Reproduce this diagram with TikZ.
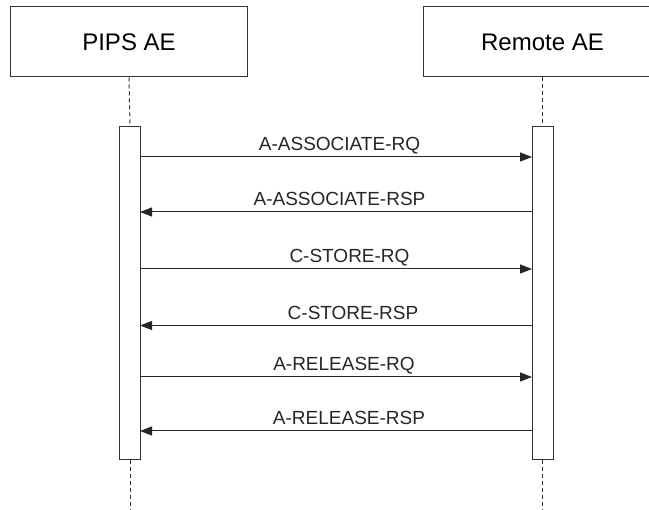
\documentclass[tikz,border=0pt]{standalone}
\usepackage{fontspec}
\setmainfont{Liberation Sans}
\usepackage{tikz}
\usetikzlibrary{arrows.meta}

\tikzset{
  actor/.style={draw=black!80, line width=1pt, fill=white, minimum height=70pt, font=\fontsize{24}{28}\selectfont},
  actbar/.style={draw=black!80, line width=1pt, fill=white, minimum width=21pt, minimum height=333pt},
  life/.style={black!80, line width=1pt, dash pattern=on 4pt off 3pt},
  msg/.style={black!85, line width=1pt, -{Triangle[length=12pt,width=9pt]}},
  lbl/.style={anchor=base, yshift=6pt, inner sep=0pt, text=black!85, font=\fontsize{19}{22}\selectfont}
}

\begin{document}
\begin{tikzpicture}[x=1pt,y=-1pt]
    \useasboundingbox (0,0) rectangle (649,510);

    \node[actor, minimum width=237pt] (pips) at (129,42) {PIPS AE};
    \node[actor, minimum width=239pt] (remote) at (542.5,42) {Remote AE};

    \node[actbar] (pipsbar) at (130,293.5) {};
    \node[actbar] (remotebar) at (542.5,293.5) {};

    \coordinate (pipsend) at (130,510);
    \coordinate (remoteend) at (542.5,510);

    \draw[life] (pips.south) -- (pipsbar.north);
    \draw[life] (pipsbar.south) -- (pipsend);
    \draw[life] (remote.south) -- (remotebar.north);
    \draw[life] (remotebar.south) -- (remoteend);

    \coordinate (l1) at (140,157);   \coordinate (r1) at (532,157);
    \coordinate (l2) at (140,212);   \coordinate (r2) at (532,212);
    \coordinate (l3) at (140,269);   \coordinate (r3) at (532,269);
    \coordinate (l4) at (140,325.5); \coordinate (r4) at (532,325.5);
    \coordinate (l5) at (140,377);   \coordinate (r5) at (532,377);
    \coordinate (l6) at (140,431);   \coordinate (r6) at (532,431);

    \draw[msg] (l1) -- node[lbl, xshift=3.5pt] {A-ASSOCIATE-RQ} (r1);
    \draw[msg] (r2) -- node[lbl, xshift=3.5pt] {A-ASSOCIATE-RSP} (l2);
    \draw[msg] (l3) -- node[lbl, xshift=13.5pt] {C-STORE-RQ} (r3);
    \draw[msg] (r4) -- node[lbl, xshift=17pt] {C-STORE-RSP} (l4);
    \draw[msg] (l5) -- node[lbl, xshift=8pt] {A-RELEASE-RQ} (r5);
    \draw[msg] (r6) -- node[lbl, xshift=13pt] {A-RELEASE-RSP} (l6);
\end{tikzpicture}
\end{document}
